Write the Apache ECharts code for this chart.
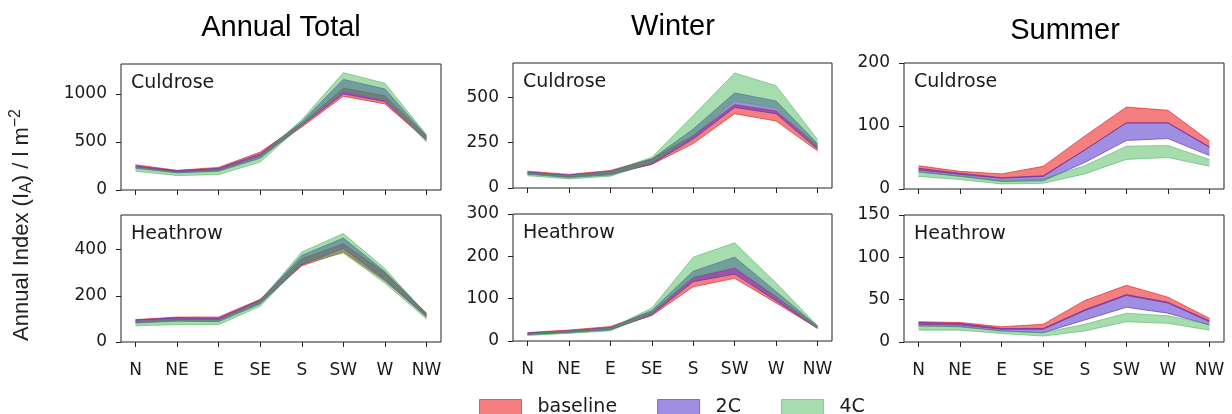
<!DOCTYPE html>
<html>
<head>
<meta charset="utf-8">
<script src="https://cdn.jsdelivr.net/npm/echarts@6/dist/echarts.min.js"></script>
<style>
html,body{margin:0;padding:0;background:#fff;}
#chart{width:1232px;height:414px;}
</style>
</head>
<body>
<div id="chart"></div>
<script>
// ---- categories & labels ----
const directions = ['N', 'NE', 'E', 'SE', 'S', 'SW', 'W', 'NW'];
const columnTitles = ['Annual Total', 'Winter', 'Summer'];
const stations = ['Culdrose', 'Heathrow'];
const scenarios = ['baseline', '2C', '4C'];

// ---- y ticks per panel ----
const ticksAnnualCuldrose = [0, 500, 1000];
const ticksAnnualHeathrow = [0, 200, 400];
const ticksWinterCuldrose = [0, 250, 500];
const ticksWinterHeathrow = [0, 100, 200, 300];
const ticksSummerCuldrose = [0, 100, 200];
const ticksSummerHeathrow = [0, 50, 100, 150];
const yMaxAnnualCuldrose = 1310, yMaxAnnualHeathrow = 550, yMaxWinterCuldrose = 690;
const yMaxWinterHeathrow = 300, yMaxSummerCuldrose = 200, yMaxSummerHeathrow = 150;

// ---- band values (lower / upper) ----
const annualCuldroseBaselineLow  = [238, 188, 205, 350, 655, 975, 895, 520];
const annualCuldroseBaselineHigh = [262, 205, 235, 395, 690, 1060, 980, 560];
const annualCuldrose2CLow        = [225, 178, 195, 330, 670, 1000, 920, 520];
const annualCuldrose2CHigh       = [250, 200, 225, 375, 710, 1150, 1050, 565];
const annualCuldrose4CLow        = [195, 150, 160, 290, 675, 1030, 940, 500];
const annualCuldrose4CHigh       = [235, 185, 205, 350, 730, 1220, 1110, 575];

const annualHeathrowBaselineLow  = [85, 95, 95, 170, 330, 390, 265, 110];
const annualHeathrowBaselineHigh = [97, 108, 108, 185, 360, 425, 300, 125];
const annualHeathrow2CLow        = [82, 90, 88, 165, 335, 405, 270, 108];
const annualHeathrow2CHigh       = [95, 105, 103, 182, 375, 450, 305, 123];
const annualHeathrow4CLow        = [70, 75, 75, 155, 340, 385, 255, 100];
const annualHeathrow4CHigh       = [90, 95, 95, 178, 390, 470, 318, 120];

const winterCuldroseBaselineLow  = [80, 62, 78, 130, 245, 410, 370, 205];
const winterCuldroseBaselineHigh = [93, 75, 97, 160, 290, 460, 425, 235];
const winterCuldrose2CLow        = [76, 58, 72, 133, 270, 445, 410, 215];
const winterCuldrose2CHigh       = [88, 72, 92, 160, 325, 525, 480, 245];
const winterCuldrose4CLow        = [68, 50, 65, 140, 290, 480, 440, 225];
const winterCuldrose4CHigh       = [85, 68, 90, 170, 400, 635, 565, 268];

const winterHeathrowBaselineLow  = [16, 21, 28, 60, 128, 148, 90, 30];
const winterHeathrowBaselineHigh = [20, 26, 34, 68, 150, 172, 105, 35];
const winterHeathrow2CLow        = [15, 20, 26, 62, 140, 158, 95, 30];
const winterHeathrow2CHigh       = [19, 24, 32, 72, 165, 198, 117, 35];
const winterHeathrow4CLow        = [13, 18, 24, 65, 150, 175, 105, 30];
const winterHeathrow4CHigh       = [18, 23, 30, 78, 198, 232, 137, 36];

const summerCuldroseBaselineLow  = [30, 23, 17, 20, 62, 105, 105, 66];
const summerCuldroseBaselineHigh = [37, 28, 24, 36, 84, 130, 125, 76];
const summerCuldrose2CLow        = [27, 20, 12, 13, 42, 77, 80, 53];
const summerCuldrose2CHigh       = [33, 25, 18, 21, 62, 105, 105, 67];
const summerCuldrose4CLow        = [20, 15, 8, 9, 24, 47, 50, 36];
const summerCuldrose4CHigh       = [27, 21, 14, 16, 37, 68, 69, 47];

const summerHeathrowBaselineLow  = [21, 20, 15, 15, 37, 55, 46, 24];
const summerHeathrowBaselineHigh = [24, 23, 18, 21, 49, 67, 53, 28];
const summerHeathrow2CLow        = [19, 18, 13, 11, 26, 41, 34, 20];
const summerHeathrow2CHigh       = [23, 22, 16, 16, 38, 56, 47, 25];
const summerHeathrow4CLow        = [14, 14, 10, 7, 13, 24, 22, 14];
const summerHeathrow4CHigh       = [19, 18, 13, 11, 21, 34, 31, 21];

// ---- assemble panels ----
const panels = [
  {grid:{left:121, top:64, width:320, height:126}, col:0, row:0, max:yMaxAnnualCuldrose, ticks:ticksAnnualCuldrose,
   bands:[[annualCuldroseBaselineLow, annualCuldroseBaselineHigh],[annualCuldrose2CLow, annualCuldrose2CHigh],[annualCuldrose4CLow, annualCuldrose4CHigh]]},
  {grid:{left:121, top:215, width:320, height:127}, col:0, row:1, max:yMaxAnnualHeathrow, ticks:ticksAnnualHeathrow,
   bands:[[annualHeathrowBaselineLow, annualHeathrowBaselineHigh],[annualHeathrow2CLow, annualHeathrow2CHigh],[annualHeathrow4CLow, annualHeathrow4CHigh]]},
  {grid:{left:513, top:63, width:319, height:125}, col:1, row:0, max:yMaxWinterCuldrose, ticks:ticksWinterCuldrose,
   bands:[[winterCuldroseBaselineLow, winterCuldroseBaselineHigh],[winterCuldrose2CLow, winterCuldrose2CHigh],[winterCuldrose4CLow, winterCuldrose4CHigh]]},
  {grid:{left:513, top:214, width:319, height:127}, col:1, row:1, max:yMaxWinterHeathrow, ticks:ticksWinterHeathrow,
   bands:[[winterHeathrowBaselineLow, winterHeathrowBaselineHigh],[winterHeathrow2CLow, winterHeathrow2CHigh],[winterHeathrow4CLow, winterHeathrow4CHigh]]},
  {grid:{left:904, top:63, width:320, height:126}, col:2, row:0, max:yMaxSummerCuldrose, ticks:ticksSummerCuldrose,
   bands:[[summerCuldroseBaselineLow, summerCuldroseBaselineHigh],[summerCuldrose2CLow, summerCuldrose2CHigh],[summerCuldrose4CLow, summerCuldrose4CHigh]]},
  {grid:{left:904, top:215, width:320, height:127}, col:2, row:1, max:yMaxSummerHeathrow, ticks:ticksSummerHeathrow,
   bands:[[summerHeathrowBaselineLow, summerHeathrowBaselineHigh],[summerHeathrow2CLow, summerHeathrow2CHigh],[summerHeathrow4CLow, summerHeathrow4CHigh]]}
];

const fillColors = ['rgba(236,22,22,0.55)', 'rgba(80,50,200,0.55)', 'rgba(60,180,75,0.45)'];
const edgeColors = ['rgba(220,20,20,0.6)', 'rgba(80,40,190,0.6)', 'rgba(60,170,75,0.5)'];
const dirIdx = directions.map((d, i) => i);
const txt = '#1a1a1a';
const tickFont = 'DejaVu Sans';

function bandRenderer(fill, edge) {
  return function (params, api) {
    if (params.dataIndexInside !== 0) return null;
    const n = params.dataInsideLength;
    const top = [], bot = [];
    for (let k = 0; k < n; k++) {
      top.push(api.coord([api.value(0, k), api.value(2, k)]));
      bot.push(api.coord([api.value(0, k), api.value(1, k)]));
    }
    return {
      type:'group',
      children:[
        {type:'polygon', shape:{points:top.concat(bot.slice().reverse())}, style:{fill:fill, stroke:null}},
        {type:'polyline', shape:{points:top}, style:{stroke:edge, fill:null, lineWidth:1}},
        {type:'polyline', shape:{points:bot}, style:{stroke:edge, fill:null, lineWidth:1}}
      ]
    };
  };
}

const grids = [], xAxes = [], yAxes = [], series = [], graphics = [];
panels.forEach((p, i) => {
  grids.push(Object.assign({show:true, borderColor:'#222', borderWidth:1, backgroundColor:'transparent', containLabel:false}, p.grid));
  xAxes.push({
    type:'value', gridIndex:i, min:-0.35, max:7.35,
    axisLine:{show:false, onZero:false}, splitLine:{show:false},
    axisTick:{show:true, inside:false, length:5, lineStyle:{color:'#222', width:1}, customValues:dirIdx},
    axisLabel:{show:p.row === 1, customValues:dirIdx, formatter:v => directions[Math.round(v)] || '',
               color:txt, fontFamily:tickFont, fontSize:17, margin:20}
  });
  yAxes.push({
    type:'value', gridIndex:i, min:0, max:p.max,
    axisLine:{show:false, onZero:false}, splitLine:{show:false},
    axisTick:{show:true, inside:false, length:5, lineStyle:{color:'#222', width:1}, customValues:p.ticks},
    axisLabel:{customValues:p.ticks, formatter:v => String(v), color:txt, fontFamily:tickFont, fontSize:17, margin:14}
  });
  p.bands.forEach((b, s) => {
    const lo = b[0], hi = b[1];
    series.push({
      type:'custom', name:scenarios[s], xAxisIndex:i, yAxisIndex:i,
      data:lo.map((v, k) => [dirIdx[k], v, hi[k]]),
      encode:{x:0, y:[1, 2]},
      itemStyle:{color:fillColors[s]},
      renderItem:bandRenderer(fillColors[s], edgeColors[s]),
      silent:true, z:2 + s
    });
  });
  graphics.push({
    type:'text', left:p.grid.left + 10, top:p.grid.top + 10,
    style:{text:stations[p.row], font:'19px "DejaVu Sans"', fill:txt}
  });
});

// column titles
const titleCenters = [[281, 28], [673, 27], [1065, 31]];
columnTitles.forEach((t, c) => {
  graphics.push({
    type:'text', x:titleCenters[c][0], y:titleCenters[c][1],
    style:{text:t, font:'29px "Liberation Sans"', fill:'#000', align:'center', verticalAlign:'middle'}
  });
});

// shared y-axis title (rotated)
graphics.push({
  type:'text', x:22, y:225, rotation:Math.PI / 2,
  style:{
    text:'{a|Annual Index (I}{sub|A}{a|) / l m}{sup|−2}',
    align:'center', verticalAlign:'middle', fill:'#222',
    rich:{
      a:{fontSize:22, fontFamily:'Liberation Sans', fill:'#222'},
      sub:{fontSize:16, fontFamily:'Liberation Sans', fill:'#222', padding:[10,0,0,0]},
      sup:{fontSize:16, fontFamily:'Liberation Sans', fill:'#222', padding:[0,0,12,0]}
    }
  }
});

const option = {
  animation:false,
  backgroundColor:'#fff',
  grid:grids, xAxis:xAxes, yAxis:yAxes, series:series, graphic:graphics,
  legend:{
    left:479, top:398, padding:0, itemWidth:42, itemHeight:16, itemGap:40, icon:'rect',
    data:scenarios.map((s, k) => ({name:s, itemStyle:{color:fillColors[k], borderColor:edgeColors[k], borderWidth:1}})),
    textStyle:{fontSize:19, fontFamily:'DejaVu Sans', color:txt, padding:[0,0,0,11]},
    selectedMode:false
  }
};

const chart = echarts.init(document.getElementById('chart'), null, {renderer:'canvas'});
chart.setOption(option);
</script>
</body>
</html>
